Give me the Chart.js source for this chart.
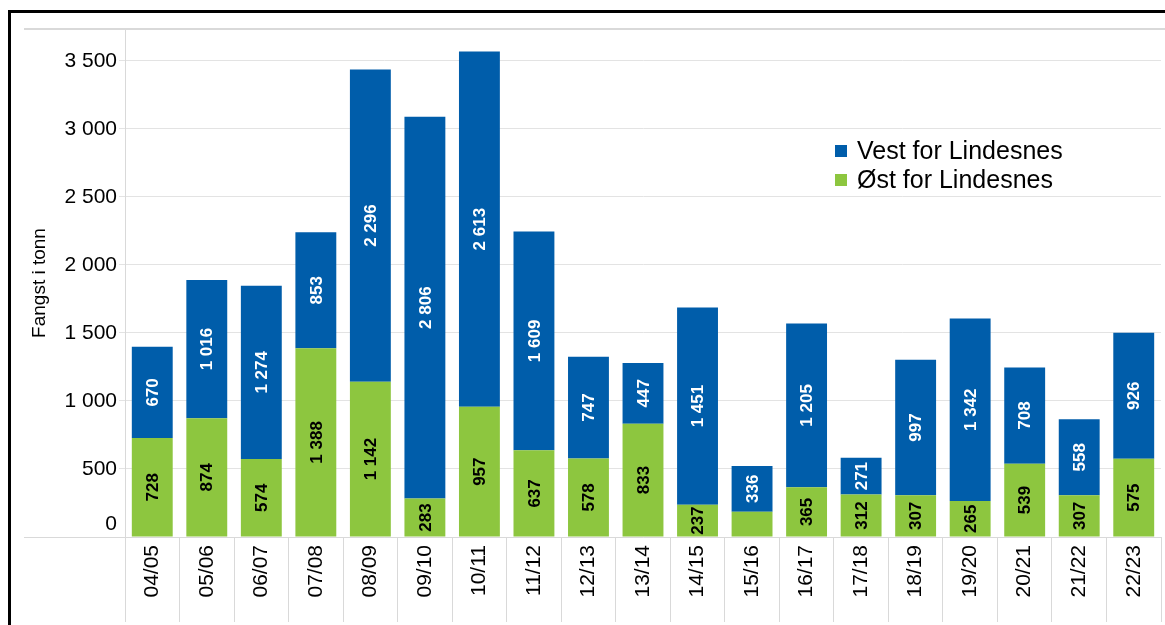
<!DOCTYPE html>
<html>
<head>
<meta charset="utf-8">
<script src="https://cdn.jsdelivr.net/npm/chart.js@4"></script>
<style>
  body { margin: 0; background: #fff; }
  #frame { position: absolute; left: 8px; top: 10px; width: 1200px; height: 700px; border: 3px solid #000; }
  #wrap { position: absolute; left: 0; top: 0; width: 1165px; height: 625px; }
</style>
</head>
<body>
<div id="frame"></div>
<div id="wrap"><canvas id="chart"></canvas></div>
<script>
const seasons = ['04/05','05/06','06/07','07/08','08/09','09/10','10/11','11/12','12/13','13/14',
                 '14/15','15/16','16/17','17/18','18/19','19/20','20/21','21/22','22/23'];
// Øst for Lindesnes (green, bottom)
const ost = [728, 874, 574, 1388, 1142, 283, 957, 637, 578, 833, 237, 186, 365, 312, 307, 265, 539, 307, 575];
// Vest for Lindesnes (blue, top)
const vest = [670, 1016, 1274, 853, 2296, 2806, 2613, 1609, 747, 447, 1451, 336, 1205, 271, 997, 1342, 708, 558, 926];
const yTicks = [0, 500, 1000, 1500, 2000, 2500, 3000, 3500];
const yMax = 3735;

const blue = '#005DAA';
const green = '#8DC63F';
const font = '"Liberation Sans", Arial, sans-serif';

const fmt = n => String(n).replace(/\B(?=(\d{3})+(?!\d))/g, ' ');

// values written inside the bars, rotated
const barLabels = {
  id: 'barLabels',
  afterDatasetsDraw(chart) {
    const ctx = chart.ctx;
    ctx.save();
    ctx.font = 'bold 17px ' + font;
    ctx.textAlign = 'center';
    ctx.textBaseline = 'middle';
    chart.data.datasets.forEach((ds, i) => {
      chart.getDatasetMeta(i).data.forEach((bar, j) => {
        const v = ds.data[j];
        if (v < 200) return; // too small to fit
        ctx.save();
        ctx.translate(bar.x, (bar.y + bar.base) / 2);
        ctx.rotate(-Math.PI / 2);
        ctx.fillStyle = ds.labelColor;
        ctx.fillText(fmt(v), 0, 1);
        ctx.restore();
      });
    });
    ctx.restore();
  }
};

// legend inside the plot + top/bottom border lines
const extras = {
  id: 'extras',
  afterDraw(chart) {
    const ctx = chart.ctx;
    const a = chart.chartArea;
    ctx.save();
    ctx.strokeStyle = '#d9d9d9';
    ctx.lineWidth = 2;
    ctx.beginPath();
    ctx.moveTo(24, a.top);
    ctx.lineTo(1165, a.top);
    ctx.stroke();
    ctx.lineWidth = 1;
    ctx.beginPath();
    ctx.moveTo(24, a.bottom + 0.5);
    ctx.lineTo(a.left, a.bottom + 0.5);
    ctx.stroke();

    const items = [['Vest for Lindesnes', blue], ['Øst for Lindesnes', green]];
    ctx.font = '25px ' + font;
    ctx.textBaseline = 'middle';
    items.forEach((it, k) => {
      const y = 151 + k * 29;
      ctx.fillStyle = it[1];
      ctx.fillRect(835, y - 6, 12, 12);
      ctx.fillStyle = '#000';
      ctx.fillText(it[0], 857, y + 1);
    });
    ctx.restore();
  }
};

new Chart(document.getElementById('chart'), {
  type: 'bar',
  data: {
    labels: seasons,
    datasets: [
      { label: 'Øst for Lindesnes', data: ost, backgroundColor: green, labelColor: '#000',
        barPercentage: 0.75, categoryPercentage: 1.0 },
      { label: 'Vest for Lindesnes', data: vest, backgroundColor: blue, labelColor: '#fff',
        barPercentage: 0.75, categoryPercentage: 1.0 }
    ]
  },
  options: {
    responsive: true,
    maintainAspectRatio: false,
    animation: false,
    layout: { padding: { top: 29, left: 28, right: 4, bottom: 0 } },
    plugins: { legend: { display: false }, tooltip: { enabled: false } },
    scales: {
      x: {
        stacked: true,
        offset: true,
        grid: { offset: true, drawOnChartArea: false, tickLength: 85, color: '#d9d9d9' },
        border: { color: '#d9d9d9' },
        ticks: { minRotation: 90, maxRotation: 90, padding: -77, color: '#000', font: { size: 21, family: font } },
        afterFit: s => { s.height = 88; }
      },
      y: {
        stacked: true,
        min: 0,
        max: yMax,
        grid: { color: '#e3e3e3', tickLength: 6 },
        border: { color: '#d9d9d9' },
        ticks: { padding: 2, autoSkip: false, color: '#000', font: { size: 21, family: font },
                 callback: v => v === 0 ? ['0', ''] : fmt(v) },
        afterBuildTicks: s => { s.ticks = yTicks.map(v => ({ value: v })); },
        title: { display: true, text: 'Fangst i tonn', color: '#000', font: { size: 19, family: font },
                 padding: { top: 0, bottom: 0 } },
        afterFit: s => { s.width = 97; }
      }
    }
  },
  plugins: [barLabels, extras]
});
</script>
</body>
</html>
